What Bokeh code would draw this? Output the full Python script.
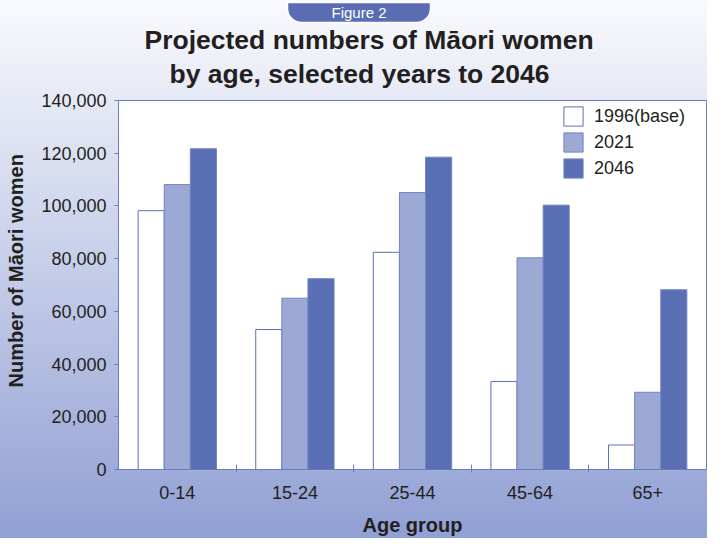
from bokeh.plotting import figure
from bokeh.models import (Range1d, FixedTicker, NumeralTickFormatter, Title,
                          ColumnDataSource, Legend, LegendItem)
from bokeh.transform import dodge
from bokeh.embed import file_html
from bokeh.resources import INLINE

# ---------------- data ----------------
ages = ["0-14", "15-24", "25-44", "45-64", "65+"]
years = ["1996(base)", "2021", "2046"]
women_1996 = [98200, 53100, 82400, 33400, 9300]
women_2021 = [108100, 65000, 105100, 80300, 29300]
women_2046 = [121700, 72400, 118500, 100300, 68200]
y_ticks = [0, 20000, 40000, 60000, 80000, 100000, 120000, 140000]
title_lines = ["Projected numbers of Māori women", "by age, selected years to 2046"]
y_title = "Number of Māori women"
x_title = "Age group"

# ---------------- layout ----------------
W, H = 707, 538
FL, FR, FT, FB = 118, 706, 99, 471
AX = "#6a7cc2"
TXT = "#231f20"
FONT = "Liberation Sans"

p = figure(width=W, height=H, output_backend="svg", toolbar_location=None,
           x_range=Range1d(-0.5, len(ages) - 0.5), y_range=Range1d(0, 140000),
           min_border_left=FL, min_border_right=W - FR,
           min_border_top=FT, min_border_bottom=H - FB)
p.background_fill_color = "white"
p.border_fill_alpha = 0
p.styles = {"background": "linear-gradient(to bottom, #f9fafd 0%, #91a0d4 100%)"}
p.outline_line_color = AX
p.outline_line_width = 1
p.xgrid.visible = False
p.ygrid.visible = False

# ---------------- bars ----------------
src = ColumnDataSource(dict(x=list(range(len(ages))), y96=women_1996,
                            y21=women_2021, y46=women_2046))
bw = 0.222
r1 = p.vbar(x=dodge("x", -bw, range=p.x_range), top="y96", width=bw, source=src,
            fill_color="white", line_color="#5a6fba", line_width=1)
r2 = p.vbar(x=dodge("x", 0, range=p.x_range), top="y21", width=bw, source=src,
            fill_color="#9ca9d4", line_color="#7284c4", line_width=1)
r3 = p.vbar(x=dodge("x", bw, range=p.x_range), top="y46", width=bw, source=src,
            fill_color="#5a6eb4", line_color="#7385c5", line_width=1)

# ---------------- axes ----------------
ya = p.yaxis[0]
ya.ticker = FixedTicker(ticks=y_ticks)
ya.formatter = NumeralTickFormatter(format="0,0")
ya.axis_line_color = AX
ya.major_tick_line_color = AX
ya.major_tick_in = 0
ya.major_tick_out = 4
ya.minor_tick_line_color = None
ya.major_label_standoff = 8
ya.major_label_text_font = FONT
ya.major_label_text_font_size = "18px"
ya.major_label_text_color = TXT

xa = p.xaxis[0]
xa.ticker = FixedTicker(ticks=list(range(len(ages))),
                        minor_ticks=[i + 0.5 for i in range(len(ages) - 1)])
xa.major_label_overrides = {i: a for i, a in enumerate(ages)}
xa.axis_line_color = AX
xa.major_tick_in = 0
xa.major_tick_out = 0
xa.major_tick_line_color = None
xa.minor_tick_line_color = AX
xa.minor_tick_in = 5
xa.minor_tick_out = 3
xa.major_label_standoff = 13
xa.major_label_text_font = FONT
xa.major_label_text_font_size = "18px"
xa.major_label_text_color = TXT
xa.axis_label = x_title
xa.axis_label_text_font = FONT
xa.axis_label_text_font_size = "20px"
xa.axis_label_text_font_style = "bold"
xa.axis_label_text_color = TXT
xa.axis_label_standoff = 12

# y-axis title placed in the left side panel (shifted like the original)
ylab = Title(text=y_title, align="left", offset=82, standoff=0,
             vertical_align="bottom",
             padding=dict(left=0, right=0, top=0, bottom=12),
             text_font=FONT, text_font_size="20px", text_font_style="bold",
             text_color=TXT)
p.add_layout(ylab, "left")

# ---------------- legend ----------------
legend = Legend(items=[LegendItem(label=years[0], renderers=[r1]),
                       LegendItem(label=years[1], renderers=[r2]),
                       LegendItem(label=years[2], renderers=[r3])],
                location=(443, 289), border_line_color=None,
                background_fill_alpha=0, padding=0, margin=0, spacing=2,
                glyph_width=24, glyph_height=24, label_height=24,
                label_standoff=9, label_text_font=FONT,
                label_text_font_size="18px", label_text_color=TXT)
p.add_layout(legend)

# ---------------- titles ----------------
t2 = Title(text=title_lines[1], align="left", offset=51, standoff=2,
           padding=dict(left=0, right=0, top=0, bottom=11),
           text_font=FONT, text_font_size="26.5px", text_font_style="bold",
           text_color=TXT)
t1 = Title(text=title_lines[0], align="left", offset=26, standoff=1,
           text_font=FONT, text_font_size="26.5px", text_font_style="bold",
           text_color=TXT)
tab = Title(text="Figure 2", align="left", offset=169, standoff=0,
            padding=dict(left=44, right=44, top=1, bottom=2),
            text_font=FONT, text_font_size="15px", text_font_style="normal",
            text_color="white", background_fill_color="#5a6db3",
            border_line_color="white", border_line_width=1.5,
            border_radius=dict(top_left=0, top_right=0, bottom_right=14, bottom_left=14))
p.add_layout(t2, "above")
p.add_layout(t1, "above")
p.add_layout(tab, "above")

open("out.html", "w").write(file_html(p, INLINE))
